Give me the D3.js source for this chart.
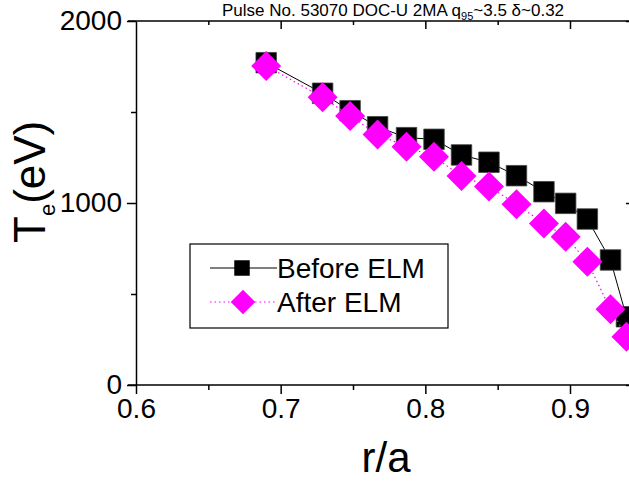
<!DOCTYPE html>
<html>
<head>
<meta charset="utf-8">
<script src="https://cdn.jsdelivr.net/npm/d3@7"></script>
<style>
  body { margin: 0; background: #fff; }
  svg { display: block; font-family: Arial, "Liberation Sans", sans-serif; }
</style>
</head>
<body>
<svg id="chart" width="629" height="481"></svg>
<script>
// data
const rOverA = [0.690, 0.729, 0.748, 0.767, 0.787, 0.806, 0.825, 0.844, 0.863, 0.882, 0.897, 0.912, 0.928, 0.939];
const teBefore = [1771, 1603, 1507, 1419, 1359, 1350, 1264, 1224, 1150, 1062, 998, 912, 687, 375];
const teAfter = [1753, 1581, 1478, 1377, 1309, 1254, 1148, 1090, 993, 888, 815, 677, 416, 265];
const xMajor = [0.6, 0.7, 0.8, 0.9];
const xMinor = [0.65, 0.75, 0.85];
const yMajor = [0, 1000, 2000];
const yMinor = [500, 1500];
const seriesNames = ["Before ELM", "After ELM"];
const titleText = "Pulse No. 53070 DOC-U 2MA q";

const svg = d3.select("#chart");
const margin = { left: 136, right: 634, top: 21, bottom: 385 };

const x = d3.scaleLinear().domain([0.6, 0.9]).range([margin.left, 570]);
const y = d3.scaleLinear().domain([0, 2000]).range([margin.bottom, margin.top]);

svg.append("rect").attr("width", 629).attr("height", 481).attr("fill", "#fff");

// axes
const styleAxis = (g) => {
  g.select(".domain").attr("stroke", "#000").attr("stroke-width", 1.5);
  g.selectAll(".tick line").attr("stroke", "#000").attr("stroke-width", 1.5);
  g.selectAll(".tick text").attr("fill", "#000").attr("font-size", 28);
};

svg.append("g")
  .attr("transform", `translate(0,${margin.bottom})`)
  .call(d3.axisBottom(x).tickValues(xMinor).tickSize(5).tickSizeOuter(0).tickFormat(""))
  .call(styleAxis)
  .call((g) => g.select(".domain").attr("d", `M${margin.left - 8},0H${margin.right}`));

svg.append("g")
  .attr("transform", `translate(0,${margin.bottom})`)
  .call(d3.axisBottom(x).tickValues(xMajor).tickSize(9).tickPadding(4).tickFormat(d3.format(".1f")))
  .call(styleAxis)
  .call((g) => g.select(".domain").remove());

// top mirror axis, ticks inward
svg.append("g")
  .attr("transform", `translate(0,${margin.top})`)
  .call(d3.axisBottom(x).tickValues(xMinor.concat([0.95])).tickSize(4).tickSizeOuter(0).tickFormat(""))
  .call(styleAxis)
  .call((g) => g.select(".domain").attr("d", `M${margin.left - 8},0H${margin.right}`));
svg.append("g")
  .attr("transform", `translate(0,${margin.top})`)
  .call(d3.axisBottom(x).tickValues(xMajor.slice(1)).tickSize(8).tickFormat(""))
  .call(styleAxis)
  .call((g) => g.select(".domain").remove());

svg.append("g")
  .attr("transform", `translate(${margin.left},0)`)
  .call(d3.axisLeft(y).tickValues(yMinor).tickSize(5).tickSizeOuter(0).tickFormat(""))
  .call(styleAxis);

svg.append("g")
  .attr("transform", `translate(${margin.left},0)`)
  .call(d3.axisLeft(y).tickValues(yMajor).tickSize(9).tickPadding(5).tickFormat(d3.format("d")))
  .call(styleAxis)
  .call((g) => g.select(".domain").remove());

// right mirror axis, ticks inward
svg.append("g")
  .attr("transform", `translate(${margin.right},0)`)
  .call(d3.axisLeft(y).tickValues(yMajor).tickSize(-8).tickSizeOuter(0).tickFormat(""))
  .call(styleAxis)
  .call((g) => g.selectAll(".tick line").attr("x2", -8));

// series
const before = rOverA.map((r, i) => ({ r, te: teBefore[i] }));
const after = rOverA.map((r, i) => ({ r, te: teAfter[i] }));

const line = d3.line().x((d) => x(d.r)).y((d) => y(d.te));

svg.append("path")
  .datum(before)
  .attr("fill", "none")
  .attr("stroke", "#000")
  .attr("stroke-width", 1)
  .attr("d", line);

svg.append("g")
  .selectAll("path")
  .data(before)
  .join("path")
  .attr("transform", (d) => `translate(${x(d.r)},${y(d.te)})`)
  .attr("d", d3.symbol(d3.symbolSquare, 420))
  .attr("fill", "#000")
  .attr("stroke", "#444")
  .attr("stroke-width", 0.8);

svg.append("path")
  .datum(after)
  .attr("fill", "none")
  .attr("stroke", "#ff00ff")
  .attr("stroke-width", 1.2)
  .attr("stroke-dasharray", "1.5,3")
  .attr("d", line);

svg.append("g")
  .selectAll("path")
  .data(after)
  .join("path")
  .attr("transform", (d) => `translate(${x(d.r)},${y(d.te)}) rotate(45)`)
  .attr("d", d3.symbol(d3.symbolSquare, 450))
  .attr("fill", "#ff00ff");

// legend
const legend = svg.append("g");
legend.append("rect")
  .attr("x", 190).attr("y", 244).attr("width", 258).attr("height", 84)
  .attr("fill", "#fff").attr("stroke", "#000").attr("stroke-width", 1.2);

legend.append("line")
  .attr("x1", 210).attr("x2", 277).attr("y1", 268).attr("y2", 268)
  .attr("stroke", "#000").attr("stroke-width", 1);
legend.append("path")
  .attr("transform", "translate(242,268)")
  .attr("d", d3.symbol(d3.symbolSquare, 240))
  .attr("fill", "#000");
legend.append("text")
  .attr("x", 277).attr("y", 278)
  .attr("font-size", 28)
  .text(seriesNames[0]);

legend.append("line")
  .attr("x1", 210).attr("x2", 277).attr("y1", 302).attr("y2", 302)
  .attr("stroke", "#ff00ff").attr("stroke-width", 1.2).attr("stroke-dasharray", "1.5,3");
legend.append("path")
  .attr("transform", "translate(243,302) rotate(45)")
  .attr("d", d3.symbol(d3.symbolSquare, 300))
  .attr("fill", "#ff00ff");
legend.append("text")
  .attr("x", 277).attr("y", 312)
  .attr("font-size", 28)
  .text(seriesNames[1]);

// title (sits right at the top edge)
const title = svg.append("text")
  .attr("x", 222).attr("y", 16)
  .attr("font-size", 17);
title.append("tspan").text(titleText);
title.append("tspan").attr("font-size", 11).attr("dy", 4).text("95");
title.append("tspan").attr("dy", -4).text("~3.5 δ~0.32");

// axis titles
svg.append("text")
  .attr("x", 386).attr("y", 472)
  .attr("text-anchor", "middle")
  .attr("font-size", 42)
  .text("r/a");

const yTitle = svg.append("text")
  .attr("transform", "translate(45,243) rotate(-90)")
  .attr("font-size", 44);
yTitle.append("tspan").text("T");
yTitle.append("tspan").attr("font-size", 22).attr("dy", 10).text("e");
yTitle.append("tspan").attr("dy", -10).text("(eV)");
</script>
</body>
</html>
